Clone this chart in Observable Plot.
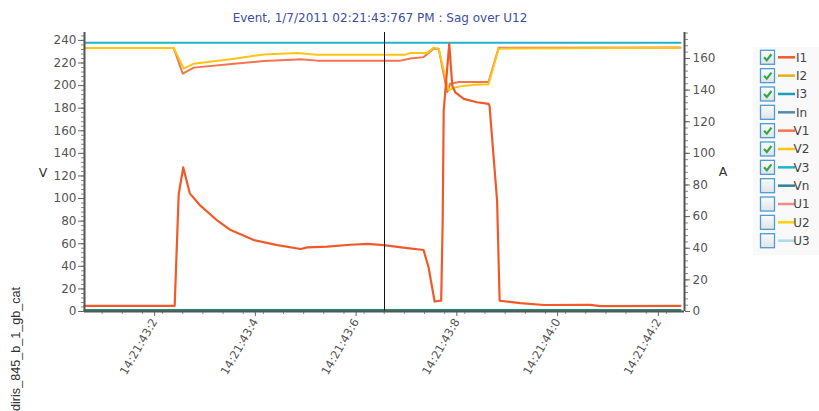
<!DOCTYPE html>
<html><head><meta charset="utf-8">
<script src="https://cdn.jsdelivr.net/npm/d3@7"></script>
<script src="https://cdn.jsdelivr.net/npm/@observablehq/plot@0.6"></script>
<style>
body{margin:0;background:#fff;}
#wrap{position:relative;width:819px;height:411px;overflow:hidden;}
</style></head><body><div id="wrap"></div><script>
// ---- data (time = seconds within 14:21) ----
const titleText = "Event, 1/7/2011 02:21:43:767 PM : Sag over U12";
const sideLabel = "diris_845_b_1_gb_cat";
const leftAxisLabel = "V";
const rightAxisLabel = "A";

const xTicks = [43.2, 43.4, 43.6, 43.8, 44.0, 44.2];
const xTickLabels = ["14:21:43:2", "14:21:43:4", "14:21:43:6", "14:21:43:8", "14:21:44:0", "14:21:44:2"];
const vTicks = [0, 20, 40, 60, 80, 100, 120, 140, 160, 180, 200, 220, 240];
const aTicks = [0, 20, 40, 60, 80, 100, 120, 140, 160];
const timeDomain = [43.045, 44.236];
const vDomainMax = 247;
const aDomainMax = 176.4;
const cursorTime = 43.6405;

// I1 (A)
const i1Time = [43.045, 43.224, 43.232, 43.241, 43.254, 43.275, 43.309, 43.335, 43.381, 43.428, 43.474, 43.487, 43.527, 43.573, 43.606, 43.639, 43.686, 43.718, 43.728, 43.740, 43.750, 43.753, 43.756, 43.758, 43.769, 43.775, 43.781, 43.798, 43.824, 43.847, 43.849, 43.864, 43.869, 43.910, 43.957, 44.049, 44.069, 44.228];
const i1Values = [3.6, 3.6, 74.3, 91.1, 74.7, 66.9, 57.4, 51.5, 45.2, 42.0, 39.5, 40.5, 41.0, 42.2, 42.7, 42.0, 40.1, 38.9, 27.8, 6.3, 6.8, 6.8, 57.4, 127, 169.2, 142.8, 138.6, 134.4, 132.3, 131.3, 130.0, 70.0, 6.8, 5.3, 4.1, 4.2, 3.4, 3.6];
// I2, I3 (A)
const i2Time = [43.045, 44.228];
const i2Values = [0.9, 0.9];
const i3Time = [43.045, 44.228];
const i3Values = [0.9, 0.9];
// V1 (V)
const v1Time = [43.045, 43.222, 43.240, 43.262, 43.342, 43.401, 43.467, 43.474, 43.507, 43.672, 43.692, 43.718, 43.738, 43.748, 43.765, 43.771, 43.788, 43.847, 43.867, 44.228];
const v1Values = [233.3, 233.3, 210.5, 215.9, 219.4, 221.7, 223.2, 223.3, 222.1, 222.1, 224.0, 225.2, 232.7, 232.7, 194.2, 201.7, 203.1, 203.1, 233.4, 233.8];
// V2 (V)
const v2Time = [43.045, 43.222, 43.242, 43.262, 43.342, 43.401, 43.467, 43.507, 43.682, 43.692, 43.725, 43.738, 43.748, 43.755, 43.768, 43.778, 43.791, 43.818, 43.847, 43.867, 44.228];
const v2Values = [233.3, 233.3, 215.0, 219.4, 223.8, 227.6, 228.8, 227.4, 227.4, 228.8, 228.8, 233.6, 232.7, 219.4, 195.7, 198.1, 199.3, 200.8, 201.1, 232.7, 233.6];
// V3 (V)
const v3Time = [43.045, 44.228];
const v3Values = [238.0, 238.0];

const legendNames = ["I1", "I2", "I3", "In", "V1", "V2", "V3", "Vn", "U1", "U2", "U3"];
const legendChecked = [true, true, true, false, true, true, true, false, false, false, false];
const legendColors = ["#f05a28", "#e8ad14", "#1a9fb8", "#4d8ea4", "#f4744e", "#ffc414", "#22b2cc", "#327f9b", "#f48a84", "#ffd400", "#abdde4"];

// ---- build ----
const K = vDomainMax / aDomainMax; // maps amps onto the volt scale
const toRows = (ts, vs) => ts.map((t, i) => ({t, v: vs[i]}));
const col = n => legendColors[legendNames.indexOf(n)];

const minorX = d3.range(1077, 1106).map(i => +(i * 0.04).toFixed(2));
const minorV = d3.range(0, 248, 4);
const minorA = d3.range(0, 177, 4).map(a => a * K);
const aTicksScaled = aTicks.map(a => a * K);

const chart = Plot.plot({
  width: 819, height: 411,
  marginLeft: 84, marginRight: 135, marginTop: 32, marginBottom: 100,
  style: {fontFamily: "'DejaVu Sans', Verdana, sans-serif", fontSize: "12px", background: "transparent", color: "#555"},
  x: {domain: timeDomain, label: null},
  y: {domain: [0, vDomainMax], label: null},
  marks: [
    Plot.axisY(minorV, {anchor: "left", tickSize: 3, tickFormat: () => "", stroke: "#888", label: null}),
    Plot.axisY(vTicks, {anchor: "left", tickSize: 6, tickPadding: 2, stroke: "#666", fill: "#555", label: null}),
    Plot.axisY(minorA, {anchor: "right", tickSize: 3, tickFormat: () => "", stroke: "#888", label: null}),
    Plot.axisY(aTicksScaled, {anchor: "right", tickSize: 5, tickPadding: 3, stroke: "#666", fill: "#555", label: null,
      tickFormat: d => String(aTicks[aTicksScaled.indexOf(d)])}),
    Plot.axisX(minorX, {anchor: "bottom", tickSize: 3, tickFormat: () => "", stroke: "#888", label: null}),
    Plot.axisX(xTicks, {anchor: "bottom", tickSize: 5, tickPadding: 3, dx: -8, tickRotate: -60, fontSize: 11.5, stroke: "#666", fill: "#555", label: null,
      tickFormat: d => xTickLabels[xTicks.indexOf(d)]}),
    Plot.line(toRows(v3Time, v3Values), {x: "t", y: "v", stroke: col("V3"), strokeWidth: 2}),
    Plot.line(toRows(v1Time, v1Values), {x: "t", y: "v", stroke: col("V1"), strokeWidth: 2}),
    Plot.line(toRows(v2Time, v2Values), {x: "t", y: "v", stroke: col("V2"), strokeWidth: 2}),
    Plot.line(toRows(i2Time, i2Values), {x: "t", y: d => d.v * K, stroke: col("I2"), strokeWidth: 2}),
    Plot.line(toRows(i3Time, i3Values), {x: "t", y: d => d.v * K, stroke: "#1c8c7a", strokeWidth: 2}),
    Plot.line(toRows(i1Time, i1Values), {x: "t", y: d => d.v * K, stroke: col("I1"), strokeWidth: 2.2}),
    Plot.ruleX([cursorTime], {stroke: "#111", strokeWidth: 1}),
    Plot.ruleX([timeDomain[0]], {stroke: "#555", strokeWidth: 2}),
    Plot.ruleX([timeDomain[1]], {stroke: "#555", strokeWidth: 2}),
    Plot.ruleY([0], {stroke: "#555", strokeWidth: 2})
  ]
});
document.getElementById("wrap").appendChild(chart);

// ---- extra texts & legend ----
const svg = d3.select(chart);
svg.append("text").attr("x", 380).attr("y", 21.5).attr("text-anchor", "middle")
  .attr("font-family", "'DejaVu Sans', Verdana, sans-serif").attr("font-size", 12).attr("fill", "#3b4ea0").text(titleText);
svg.append("text").attr("x", 43).attr("y", 177).attr("text-anchor", "middle")
  .attr("font-family", "'DejaVu Sans', Verdana, sans-serif").attr("font-size", 12.5).attr("fill", "#333").text(leftAxisLabel);
svg.append("text").attr("x", 723).attr("y", 175.5).attr("text-anchor", "middle")
  .attr("font-family", "'DejaVu Sans', Verdana, sans-serif").attr("font-size", 12.5).attr("fill", "#333").text(rightAxisLabel);
svg.append("text").attr("transform", "translate(20,287) rotate(-90)").attr("text-anchor", "end")
  .attr("font-family", "'Liberation Sans', Arial, sans-serif").attr("font-size", 12.6).attr("fill", "#333").text(sideLabel);

const defs = svg.append("defs");
const grad = defs.append("linearGradient").attr("id", "boxg").attr("x1", 0).attr("y1", 0).attr("x2", 0).attr("y2", 1);
grad.append("stop").attr("offset", "0%").attr("stop-color", "#fbfcfd");
grad.append("stop").attr("offset", "100%").attr("stop-color", "#dfe4e8");

const lg = svg.append("g").attr("font-family", "'DejaVu Sans', Verdana, sans-serif").attr("font-size", 12);
lg.append("rect").attr("x", 753).attr("y", 47).attr("width", 66).attr("height", 208).attr("fill", "#f9f9f9");
legendNames.forEach((name, i) => {
  const cy = 57.3 + i * 18.34;
  const g = lg.append("g");
  g.append("rect").attr("x", 760.5).attr("y", cy - 7).attr("width", 14).attr("height", 14)
    .attr("fill", "url(#boxg)").attr("stroke", "#4f9bd2").attr("stroke-width", 1.3);
  if (legendChecked[i]) {
    g.append("path").attr("d", `M764,${cy} L766.8,${cy + 3} L771.5,${cy - 3}`)
      .attr("fill", "none").attr("stroke", "#38a844").attr("stroke-width", 2.2);
  }
  g.append("line").attr("x1", 778).attr("x2", 795).attr("y1", cy).attr("y2", cy)
    .attr("stroke", legendColors[i]).attr("stroke-width", 2.5);
  g.append("text").attr("x", 801.5).attr("y", cy + 4.3).attr("fill", "#444").text(name);
});
</script></body></html>
